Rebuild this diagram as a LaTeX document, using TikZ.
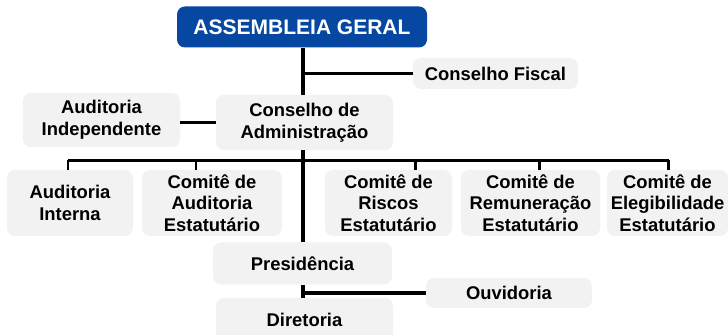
\documentclass[tikz,border=0pt]{standalone}
\usepackage{fontspec}
\setmainfont{Liberation Sans}
\usepackage{tikz}
\definecolor{azulAG}{RGB}{6,71,161}
\definecolor{cinzaCaixa}{RGB}{242,242,242}

\tikzset{
  caixa/.style={fill=cinzaCaixa, rounded corners=4pt, inner sep=0pt, align=center,
    font=\fontsize{9.2pt}{10.85pt}\selectfont\bfseries},
  tronco/.style={line width=1.9pt},
  ramo/.style={line width=1.3pt}
}

\begin{document}
\begin{tikzpicture}[x=0.5pt, y=-0.5pt]
\useasboundingbox (0,0) rectangle (728,335);

% Caixas
\node[caixa, fill=azulAG, text=white, minimum width=125pt, minimum height=20.5pt,
  font=\fontsize{10.5pt}{12pt}\selectfont\bfseries] (ag) at (302,27) {ASSEMBLEIA GERAL};
\node[caixa, minimum width=82.5pt, minimum height=15.5pt] (cf) at (495.5,73.5) {Conselho Fiscal};
\node[caixa, minimum width=88.5pt, minimum height=27.5pt] (ca) at (304.5,122.5) {Conselho de\\Administração};
\node[caixa, minimum width=78.5pt, minimum height=27pt] (ai) at (101.5,120) {Auditoria\\Independente};

\node[caixa, minimum width=63pt, minimum height=33pt] (aint) at (70,203) {Auditoria\\Interna};
\node[caixa, minimum width=70pt, minimum height=33pt] (caud) at (212,203) {Comitê de\\Auditoria\\Estatutário};
\node[caixa, minimum width=63.5pt, minimum height=33pt] (cris) at (388.5,203) {Comitê de\\Riscos\\Estatutário};
\node[caixa, minimum width=69.5pt, minimum height=33pt] (crem) at (530.5,203) {Comitê de\\Remuneração\\Estatutário};
\node[caixa, minimum width=60.5pt, minimum height=33pt] (cele) at (667.5,203) {Comitê de\\Elegibilidade\\Estatutário};

\node[caixa, minimum width=89.5pt, minimum height=21pt] (pres) at (302.5,263.5) {Presidência};
\node[caixa, minimum width=83pt, minimum height=15pt] (ouv) at (509,293) {Ouvidoria};
\node[caixa, minimum width=88.5pt, minimum height=22pt] (dir) at (304.5,320) {Diretoria};

% Linhas principais
\coordinate (barra) at (303,160.5);
\draw[tronco] (ag.south -| barra) -- (ca.north -| barra);
\draw[tronco] (ca.south -| barra) -- (pres.north -| barra);
\draw[tronco] (pres.south -| barra) -- (dir.north -| barra);
\draw[tronco] (cf.west) -- (cf.west -| barra);
\draw[tronco] (ca.west) -- (ca.west -| ai.east);
\draw[tronco] (ouv.west) -- (ouv.west -| barra);

% Barra dos comites
\draw[tronco] ([xshift=-1]aint.north |- barra) -- ([xshift=0.5]cele.north |- barra);
\draw[ramo] ([xshift=-1]aint.north) -- ([xshift=-1]aint.north |- barra);
\draw[ramo] ([xshift=-8]caud.north) -- ([xshift=-8]caud.north |- barra);
\draw[ramo] ([xshift=13.5]cris.north) -- ([xshift=13.5]cris.north |- barra);
\draw[ramo] ([xshift=4.5]crem.north) -- ([xshift=4.5]crem.north |- barra);
\draw[ramo] ([xshift=0.5]cele.north) -- ([xshift=0.5]cele.north |- barra);
\end{tikzpicture}
\end{document}
